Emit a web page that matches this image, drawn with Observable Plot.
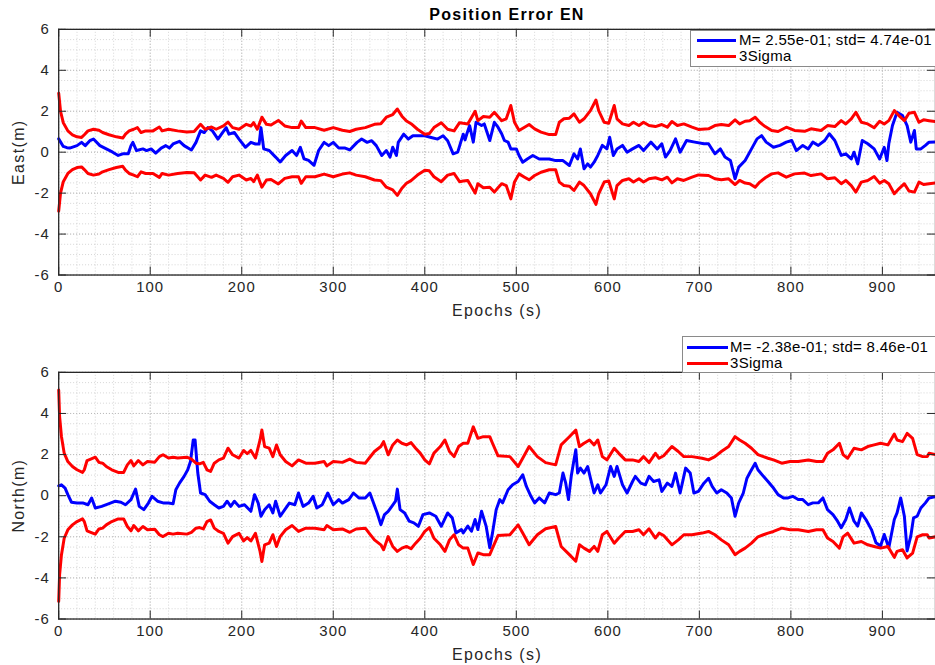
<!DOCTYPE html>
<html>
<head>
<meta charset="utf-8">
<script src="https://cdn.jsdelivr.net/npm/d3@7"></script>
<script src="https://cdn.jsdelivr.net/npm/@observablehq/plot@0.6"></script>
<style>
  html, body { margin: 0; padding: 0; background: #fff; }
  #wrap { position: relative; width: 935px; height: 665px; overflow: hidden; background: #fff;
          font-family: "Liberation Sans", Arial, Helvetica, sans-serif; color: #262626; }
  .panel { position: absolute; left: 0; }
  .panel svg text { font-family: "Liberation Sans", Arial, Helvetica, sans-serif !important; font-size: 15px !important; fill: #262626; letter-spacing: 1px; }
  .panel svg g[aria-label="x-axis label"] text,
  .panel svg g[aria-label="y-axis label"] text { font-size: 16px !important; letter-spacing: 1.4px; }
  #title { position: absolute; left: 0; top: 6px; width: 1014px; text-align: center; font-weight: bold; font-size: 16px; letter-spacing: 1.3px; color: #000; }
  .legend { position: absolute; background: #fff; border: 1px solid #8a8a8a; box-sizing: border-box; }
  .legend .row { position: absolute; left: 0; height: 16px; font-size: 15px; line-height: 16px; color: #000; white-space: nowrap; letter-spacing: 0.3px; }
  .legend .sw { position: absolute; height: 3px; }
  .legend .tx { position: absolute; }
</style>
</head>
<body>
<div id="wrap">
  <div id="p1" class="panel" style="top:0px"></div>
  <div id="p2" class="panel" style="top:343px"></div>
  <div id="title"></div>
  <div id="leg1" class="legend" style="left:690px; top:30px; width:250px; height:37px"></div>
  <div id="leg2" class="legend" style="left:682px; top:336px; width:258px; height:37px"></div>
</div>
<script>
// ---------------- data ----------------
const titleText = "Position Error EN";
const xLabel = "Epochs (s)";
const eastLabel = "East(m)";
const northLabel = "North(m)";
const eastLegend = ["M= 2.55e-01; std= 4.74e-01", "3Sigma"];
const northLegend = ["M= -2.38e-01; std= 8.46e-01", "3Sigma"];
const xTicks = [0, 100, 200, 300, 400, 500, 600, 700, 800, 900];
const yTicks = [-6, -4, -2, 0, 2, 4, 6];

const eastErrT = [0,5,9,12,20,25,29,34,38,45,52,59,65,70,76,79,81,85,92,96,101,106,112,117,121,125,132,137,145,150,155,159,163,168,174,179,183,186,192,197,204,210,215,219,221,224,230,237,242,248,255,260,264,268,273,279,284,290,295,300,306,313,318,326,331,337,342,347,353,358,362,365,369,371,377,382,387,393,400,407,414,420,425,431,436,442,444,446,449,453,456,462,465,471,476,480,484,487,491,494,500,503,507,512,518,525,536,543,551,558,563,567,570,574,578,581,585,589,594,599,602,606,610,616,621,627,634,639,647,654,659,663,668,674,679,686,695,705,710,717,723,728,734,739,743,750,757,763,768,773,781,788,795,801,806,813,819,824,830,837,842,848,855,860,866,869,873,878,884,891,897,902,905,907,911,916,922,927,931,935,937,942,947,951,958];
const eastErr = [0.65,0.28,0.22,0.2,0.32,0.48,0.32,0.56,0.64,0.32,0.16,0,-0.16,-0.08,-0.08,0.32,0.48,0.08,0.16,0.08,0.16,-0.05,0.2,0.32,0.2,0.4,0.53,0.32,0.11,0.48,1.04,0.96,1.2,1.04,0.64,0.96,1.2,0.88,0.96,0.64,0.24,0.48,0.4,0.4,1.2,0.16,0.08,-0.24,-0.48,-0.16,0.08,-0.16,0.24,-0.32,-0.4,-0.64,0.08,0.48,0.32,0.48,0.2,0.2,0.11,0.48,0.64,0.48,0.56,0.32,-0.16,0.08,-0.24,0.24,-0.16,0.48,0.88,0.64,0.8,0.8,0.8,0.72,0.64,0.8,0.56,-0.08,0,0.88,0.6,0.9,1.3,0.49,1.46,1.3,1.38,0.57,1.46,1.22,0.9,0.57,0.49,0.16,0.16,-0.16,-0.49,-0.33,-0.16,-0.33,-0.33,-0.41,-0.41,-0.65,-0.08,-0.33,0.16,-0.81,-0.57,-0.73,-0.49,-0.16,0.33,0.16,0.73,-0.16,0.16,0.33,0,0.16,0.33,0.08,0.49,0.16,0.41,-0.24,0.08,0.65,0,0.57,0.49,0.41,0.41,-0.08,0.16,-0.24,-0.41,-1.3,-0.73,-0.41,0.16,0.65,0.81,0.49,0.24,0.33,0.49,0.57,0.08,0.33,0.16,0.49,0.33,0.57,0.9,0.57,-0.16,-0.08,-0.33,0,-0.57,0.57,0.41,0.16,-0.33,0.24,-0.41,0.41,1.3,1.95,1.79,1.3,0.49,1.06,0.16,0.16,0.33,0.49,0.5];

const eastSigT = [0,2,5,10,15,20,25,28,32,38,44,48,55,63,70,73,77,82,86,90,95,103,110,113,120,130,140,148,155,160,167,172,180,185,190,197,205,210,213,217,222,227,232,240,247,255,262,265,270,280,290,300,310,318,325,335,345,352,358,365,370,375,380,385,392,400,405,410,418,425,432,438,442,447,455,458,464,471,476,480,484,489,494,498,503,509,514,520,527,536,543,547,552,558,563,569,574,581,587,590,596,601,607,610,616,623,628,634,639,645,652,659,665,670,676,683,692,699,710,717,724,732,739,744,750,755,761,766,772,779,786,795,804,815,822,833,840,848,855,860,866,871,877,884,891,897,902,907,913,918,924,929,935,940,945,951,958];
const eastSig3 = [2.88,2.0,1.44,1.04,0.85,0.75,0.72,0.85,1.04,1.12,1.07,0.96,0.85,0.75,0.69,0.88,1.04,1.12,1.2,0.96,1.04,1.04,1.23,1.04,1.12,1.04,0.99,1.01,1.36,1.12,1.23,1.12,1.28,1.47,1.2,1.12,1.36,1.28,1.44,1.12,1.71,1.36,1.33,1.55,1.28,1.2,1.2,1.52,1.2,1.2,1.07,1.2,1.07,1.01,1.12,1.2,1.36,1.39,1.71,1.84,2.11,1.76,1.52,1.39,1.12,0.88,0.91,1.2,1.44,1.12,1.04,1.44,1.41,1.38,2.0,1.54,1.74,1.71,1.95,1.74,1.54,1.63,2.28,1.46,1.06,1.22,1.35,1.14,0.98,0.86,0.86,1.46,1.63,1.66,1.87,1.46,1.63,2.03,2.55,2.03,1.46,1.41,2.28,1.63,1.38,1.3,1.46,1.3,1.46,1.3,1.25,1.35,1.22,1.5,1.3,1.38,1.22,1.11,1.14,1.3,1.35,1.3,1.58,1.38,1.51,1.54,1.71,1.46,1.25,1.06,1.01,1.22,1.06,1.02,1.14,1.06,1.3,1.25,1.54,1.38,1.63,1.95,1.46,1.38,1.19,1.51,1.38,1.54,2.03,1.79,1.54,1.9,1.95,1.46,1.58,1.54,1.5];

const northErrT = [0,3,7,10,14,20,27,32,36,40,47,55,62,68,73,79,84,88,93,98,102,108,115,120,125,128,132,137,141,144,147,149,152,155,160,165,170,175,180,184,188,192,197,203,210,214,218,221,225,230,234,237,242,247,252,258,262,267,273,278,282,288,294,300,306,310,317,322,328,335,340,344,348,352,356,360,364,368,370,373,378,383,388,393,398,405,412,418,425,430,434,440,442,447,451,455,458,462,467,471,474,478,482,485,491,496,502,507,511,516,520,525,531,536,543,547,551,554,557,560,563,565,567,570,574,578,581,585,589,592,598,603,607,610,616,621,627,630,636,641,645,650,656,659,665,670,674,679,685,690,694,699,705,710,714,719,724,730,735,739,743,748,752,755,761,764,770,775,781,786,792,797,802,808,813,819,824,830,835,840,846,851,855,860,864,869,873,877,882,888,893,898,902,907,913,916,920,924,927,931,934,938,942,947,951,958];
const northErr = [0.48,0.53,0.37,0.05,-0.32,-0.36,-0.36,-0.44,-0.11,-0.6,-0.52,-0.39,-0.27,-0.32,-0.44,-0.19,0.32,-0.52,-0.68,-0.36,-0.03,-0.27,-0.36,-0.36,-0.39,0.29,0.61,0.94,1.26,1.66,2.71,2.71,1.1,0.13,0.05,-0.27,-0.44,-0.6,-0.52,-0.27,-0.52,-0.27,-0.52,-0.44,-0.76,0.05,-0.36,-1.0,-0.68,-0.44,-0.84,-0.27,-1.0,-0.68,-0.36,-0.44,0.13,-0.52,-0.36,-0.03,-0.6,-0.44,0.13,-0.44,-0.19,-0.36,-0.19,0.13,-0.11,-0.11,0.13,-0.36,-0.84,-1.41,-0.92,-0.76,-0.52,-0.27,0.32,-0.68,-0.84,-1.24,-1.32,-1.49,-0.92,-0.84,-1.0,-1.49,-0.84,-1.08,-1.81,-1.65,-1.81,-1.48,-1.73,-1.16,-1.65,-0.76,-1.48,-2.53,-1.81,-0.68,-0.19,-0.35,0.29,0.53,0.69,1.02,0.45,-0.03,-0.35,-0.11,-0.35,0.13,0.05,0.13,1.1,0.61,-0.19,0.94,1.74,2.23,1.1,1.34,1.1,1.42,0.85,0.13,0.53,0.13,0.53,1.42,0.94,1.42,0.53,0.13,0.69,0.94,0.61,0.53,0.94,0.69,0.77,0.21,0.61,0.45,1.1,0.13,1.34,1.1,0.13,0.21,0.61,0.85,0.45,0.13,0.29,0.13,-0.11,-1.0,-0.35,0.13,0.85,1.1,1.58,1.26,0.94,0.69,0.37,0.05,-0.11,-0.11,-0.03,-0.19,-0.19,-0.44,-0.35,-0.35,-0.11,-0.68,-0.92,-1.24,-1.56,-1.16,-0.6,-1.24,-1.48,-0.84,-1.16,-1.65,-2.29,-2.45,-1.89,-2.53,-1.16,-0.84,-0.11,-1.0,-2.69,-1.97,-1.08,-1.0,-0.6,-0.35,-0.11,-0.05];

const northSigT = [0,1,3,6,10,15,20,26,28,31,35,40,44,48,52,58,65,71,75,79,82,87,92,97,105,110,114,120,125,130,140,145,150,154,158,162,166,170,175,180,185,190,197,202,206,210,215,220,222,225,230,234,238,242,248,255,262,270,280,290,293,300,310,318,325,335,340,345,352,355,360,365,370,375,380,385,390,395,400,405,410,417,422,427,432,437,442,447,453,458,464,471,474,480,493,502,507,514,523,532,543,549,558,565,569,574,580,585,589,594,599,607,612,619,627,634,639,645,652,656,661,670,677,683,692,703,710,717,724,732,739,744,750,757,764,770,775,781,790,799,808,819,828,835,840,846,853,857,862,869,877,884,891,898,906,913,916,922,927,933,938,944,949,951,958];
const northSig3 = [5.14,3.84,2.88,2.07,1.66,1.42,1.26,1.13,1.26,1.71,1.78,1.87,1.62,1.58,1.42,1.26,1.13,1.13,1.5,1.71,1.45,1.71,1.5,1.66,1.63,1.9,1.99,1.83,1.87,1.83,1.87,1.78,1.58,1.55,1.62,1.26,1.18,1.58,1.74,1.83,2.31,1.99,1.83,2.2,2.04,2.2,1.83,2.71,3.2,2.39,2.31,1.9,2.47,1.99,1.66,1.45,1.74,1.58,1.58,1.66,1.45,1.66,1.62,1.78,1.62,1.58,1.87,2.15,2.39,2.63,1.99,2.47,2.71,2.55,2.47,2.58,2.31,2.07,1.74,1.55,2.07,2.39,2.71,2.15,1.9,2.39,2.55,2.55,3.35,2.79,2.87,2.87,2.55,1.94,1.9,1.42,1.82,2.39,1.9,1.61,1.5,2.47,2.87,3.19,2.39,2.55,2.71,2.47,2.71,1.9,1.74,2.31,2.06,1.74,1.74,1.66,1.9,1.61,2.06,1.82,1.94,2.39,2.15,1.9,1.9,1.82,1.74,1.9,2.15,2.39,2.87,2.71,2.55,2.31,2.0,1.9,1.82,1.74,1.58,1.66,1.66,1.74,1.66,1.66,2.06,2.23,2.55,2.0,1.82,2.31,2.23,2.39,2.47,2.55,2.47,3.0,2.71,2.63,3.03,2.79,2.0,1.9,1.9,2.06,2.0];

// ---------------- drawing ----------------
const BLUE = "#0000ff", RED = "#ff0000", AXIS = "#262626";
const xMinor = d3.range(0, 959, 20);
const yMinor = d3.range(-6, 6.001, 0.5);
const W = 940, ML = 58.5;

function toRows(ts, vs, sign = 1) { return ts.map((t, i) => ({t, v: sign * vs[i]})); }

function panel(el, {errT, err, sigT, sig, yLabel, height, mt, mb}) {
  const innerH = height - mt - mb, innerW = W - ML;
  const tick = 8;
  const svg = Plot.plot({
    width: W, height, marginLeft: ML, marginRight: 0, marginTop: mt, marginBottom: mb,
    x: {domain: [0, 958]},
    y: {domain: [-6, 6]},
    style: {background: "white", overflow: "visible", fontSize: "15px", fontFamily: "Liberation Sans, Arial, sans-serif"},
    marks: [
      Plot.ruleX(xMinor, {stroke: "#c4c4c4", strokeWidth: 1, strokeDasharray: "1,2", strokeOpacity: 0.7}),
      Plot.ruleY(yMinor, {stroke: "#c4c4c4", strokeWidth: 1, strokeDasharray: "1,2", strokeOpacity: 0.7}),
      Plot.ruleX(xTicks, {stroke: "#b8b8b8", strokeWidth: 1, strokeDasharray: "1,2"}),
      Plot.ruleY(yTicks, {stroke: "#b8b8b8", strokeWidth: 1, strokeDasharray: "1,2"}),
      Plot.line(toRows(errT, err), {x: "t", y: "v", stroke: BLUE, strokeWidth: 3, strokeLinejoin: "round"}),
      Plot.line(toRows(sigT, sig), {x: "t", y: "v", stroke: RED, strokeWidth: 3, strokeLinejoin: "round"}),
      Plot.line(toRows(sigT, sig, -1), {x: "t", y: "v", stroke: RED, strokeWidth: 3, strokeLinejoin: "round"}),
      Plot.ruleX(xTicks, {stroke: AXIS, strokeWidth: 1, insetBottom: innerH - tick}),
      Plot.ruleX(xTicks, {stroke: AXIS, strokeWidth: 1, insetTop: innerH - tick}),
      Plot.ruleY(yTicks, {stroke: AXIS, strokeWidth: 1, insetRight: innerW - tick}),
      Plot.ruleY(yTicks, {stroke: AXIS, strokeWidth: 1, insetLeft: innerW - tick}),
      Plot.frame({stroke: AXIS, strokeWidth: 1.3}),
      Plot.axisX({ticks: xTicks, tickSize: 0, tickPadding: 6, tickFormat: d => String(d),
                  label: xLabel, labelAnchor: "center", labelOffset: 41, labelArrow: "none"}),
      Plot.axisY({ticks: yTicks, tickSize: 0, tickPadding: 9, tickFormat: d => String(d),
                  label: yLabel, labelAnchor: "center", labelOffset: 46, labelArrow: "none"})
    ]
  });
  el.appendChild(svg);
}

panel(document.getElementById("p1"), {errT: eastErrT, err: eastErr, sigT: eastSigT, sig: eastSig3,
  yLabel: eastLabel, height: 330, mt: 29, mb: 54});
panel(document.getElementById("p2"), {errT: northErrT, err: northErr, sigT: northSigT, sig: northSig3,
  yLabel: northLabel, height: 322, mt: 29, mb: 45});

document.getElementById("title").textContent = titleText;

function legend(el, labels, swLeft, swWidth, txLeft, rowTops) {
  [BLUE, RED].forEach((c, i) => {
    const row = document.createElement("div");
    row.className = "row";
    row.style.top = rowTops[i] + "px";
    row.style.width = "100%";
    const sw = document.createElement("div");
    sw.className = "sw";
    sw.style.left = swLeft + "px"; sw.style.width = swWidth + "px"; sw.style.top = "6.5px"; sw.style.background = c;
    const tx = document.createElement("div");
    tx.className = "tx";
    tx.style.left = txLeft + "px";
    tx.textContent = labels[i];
    row.appendChild(sw); row.appendChild(tx);
    el.appendChild(row);
  });
}
legend(document.getElementById("leg1"), eastLegend, 6, 39, 48, [1, 17]);
legend(document.getElementById("leg2"), northLegend, 4, 41, 47, [2, 18]);
</script>
</body>
</html>
